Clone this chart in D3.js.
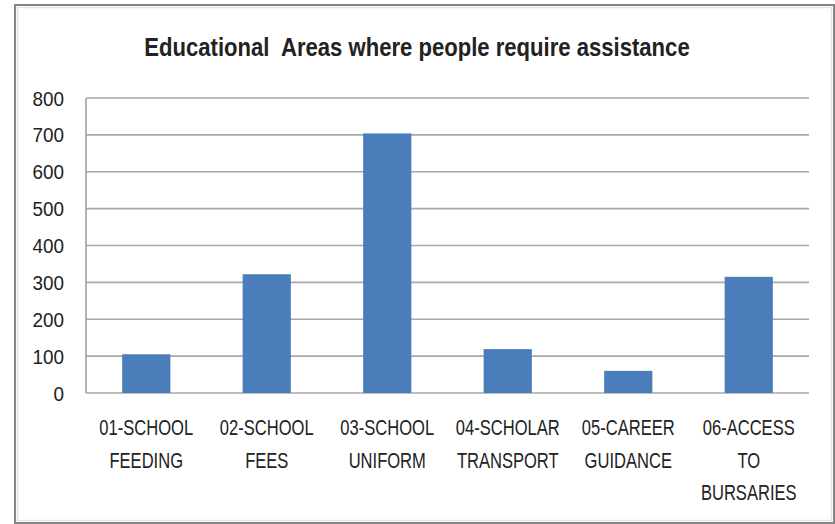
<!DOCTYPE html>
<html>
<head>
<meta charset="utf-8">
<script src="https://cdn.jsdelivr.net/npm/d3@7/dist/d3.min.js"></script>
<style>
  html, body { margin: 0; padding: 0; background: #ffffff; }
  svg { display: block; }
  text { font-family: "Liberation Sans", Arial, sans-serif; fill: #222; white-space: pre; }
</style>
</head>
<body>
<svg id="chart" width="835" height="524"></svg>
<script>
// Chart content
const chartTitle = "Educational  Areas where people require assistance";
const categories = [
  "01-SCHOOL FEEDING",
  "02-SCHOOL FEES",
  "03-SCHOOL UNIFORM",
  "04-SCHOLAR TRANSPORT",
  "05-CAREER GUIDANCE",
  "06-ACCESS TO BURSARIES"
];
const categoryLines = [
  ["01-SCHOOL", "FEEDING"],
  ["02-SCHOOL", "FEES"],
  ["03-SCHOOL", "UNIFORM"],
  ["04-SCHOLAR", "TRANSPORT"],
  ["05-CAREER", "GUIDANCE"],
  ["06-ACCESS", "TO", "BURSARIES"]
];
const values = [105, 322, 704, 119, 60, 315];
const yTicks = [0, 100, 200, 300, 400, 500, 600, 700, 800];

const svg = d3.select("#chart");
const plot = { left: 86, right: 809, top: 98, bottom: 393 };

// Outer chart frame
svg.append("rect")
  .attr("x", 15).attr("y", 5)
  .attr("width", 819).attr("height", 518)
  .attr("fill", "#fff")
  .attr("stroke", "#858585")
  .attr("stroke-width", 2);
svg.append("rect")
  .attr("x", 17.5).attr("y", 7.5)
  .attr("width", 814).attr("height", 513)
  .attr("fill", "none")
  .attr("stroke", "#e4e4e4")
  .attr("stroke-width", 1.5);

const x = d3.scaleBand()
  .domain(categories)
  .range([plot.left, plot.right])
  .paddingInner(0.6)
  .paddingOuter(0.3);

const y = d3.scaleLinear()
  .domain([0, 800])
  .range([plot.bottom, plot.top]);

// Horizontal gridlines
svg.append("g")
  .selectAll("line")
  .data(yTicks)
  .join("line")
  .attr("x1", plot.left).attr("x2", plot.right)
  .attr("y1", d => y(d)).attr("y2", d => y(d))
  .attr("stroke", "#a8a8a8")
  .attr("stroke-width", 1.6);

// Vertical axis line
svg.append("line")
  .attr("x1", plot.left).attr("x2", plot.left)
  .attr("y1", y(800)).attr("y2", y(0))
  .attr("stroke", "#a0a0a0")
  .attr("stroke-width", 1.6);

// Y tick labels (condensed horizontally)
const yLab = svg.append("g");
yTicks.forEach(t => {
  yLab.append("text")
    .attr("transform", `translate(64,${y(t) + 7.5}) scale(0.9,1)`)
    .attr("text-anchor", "end")
    .attr("font-size", 21)
    .attr("fill", "#262626")
    .text(t);
});

// Bars
svg.append("g")
  .selectAll("rect")
  .data(values)
  .join("rect")
  .attr("x", (d, i) => x(categories[i]))
  .attr("y", d => y(d))
  .attr("width", x.bandwidth())
  .attr("height", d => y(0) - y(d))
  .attr("fill", "#4a7ebb");

// Category labels, multi-line
const xLab = svg.append("g");
categoryLines.forEach((lines, i) => {
  const cx = x(categories[i]) + x.bandwidth() / 2;
  lines.forEach((ln, j) => {
    xLab.append("text")
      .attr("transform", `translate(${cx},${435 + j * 32.5}) scale(0.77,1)`)
      .attr("text-anchor", "middle")
      .attr("font-size", 21.5)
      .attr("fill", "#262626")
      .text(ln);
  });
});

// Title
svg.append("text")
  .attr("transform", `translate(417,56) scale(0.85,1)`)
  .attr("text-anchor", "middle")
  .attr("font-size", 26)
  .attr("font-weight", "bold")
  .attr("fill", "#1a1a1a")
  .text(chartTitle);
</script>
</body>
</html>
